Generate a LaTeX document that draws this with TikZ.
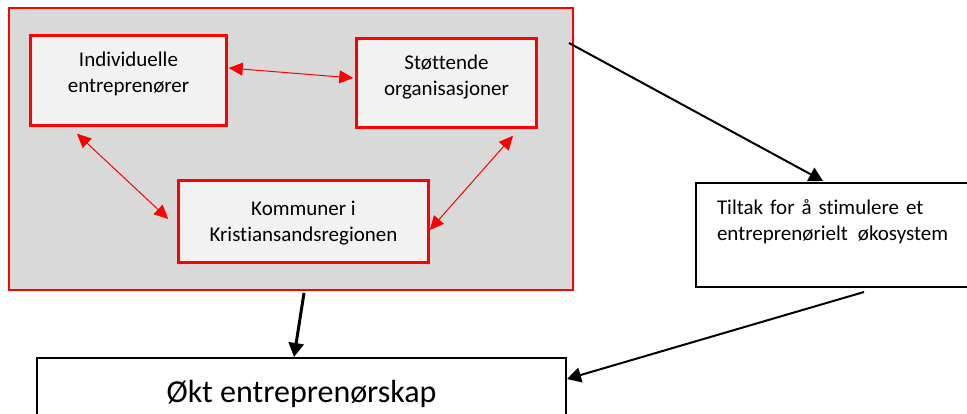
\documentclass[tikz,border=0pt]{standalone}
\usepackage{fontspec}
\setmainfont{Carlito}[Ligatures=CommonOff]
\usetikzlibrary{arrows.meta}
\definecolor{ecogray}{HTML}{D9D9D9}
\definecolor{boxgray}{HTML}{F2F2F2}

\begin{document}
\begin{tikzpicture}[x=1pt, y=-1pt,
        redbox/.style={draw=red, line width=2.5pt, fill=boxgray, align=center, inner sep=0pt, font=\fontsize{21}{26}\selectfont},
        blackbox/.style={draw=black, line width=2pt, fill=white},
        redarrow/.style={draw=red, line width=1pt, {Triangle[length=14pt,width=13pt]}-{Triangle[length=14pt,width=13pt]}},
        blackarrow/.style={draw=black, line width=2pt, -{Triangle[length=14pt,width=15pt]}}]
                \useasboundingbox (0, 0) rectangle (967, 414);

                \node[draw=red, line width=2pt, fill=ecogray, minimum width=564pt, minimum height=282pt, inner sep=0pt] (eco) at (291, 149) {};

                \node[redbox, minimum width=196pt, minimum height=90pt, text height=40pt, text depth=15pt] (ind) at (128.5, 80.5) {Individuelle\\entreprenører};
                \node[redbox, minimum width=180pt, minimum height=89pt, text height=41pt, text depth=15pt] (stott) at (446.5, 83) {Støttende\\organisasjoner};
                \node[redbox, minimum width=250pt, minimum height=82pt, text height=46pt, text depth=5pt] (kom) at (303.5, 221.5) {Kommuner i\\Kristiansandsregionen};

                \node[blackbox, anchor=north west, text width=260pt, inner xsep=21pt, minimum height=104pt, align=left, text height=15pt, text depth=55pt, font=\fontsize{21}{26}\selectfont] (tiltak) at (695, 182) {Tiltak for å stimulere et\\entreprenørielt \hspace{3pt}økosystem};
                \node[blackbox, anchor=north, minimum width=529pt, minimum height=62pt, text height=30pt, text depth=4pt, font=\fontsize{32}{38}\selectfont] (okt) at (301.5, 357) {Økt entreprenørskap};

                \draw[redarrow] ([xshift=1pt, yshift=12.5pt]ind.east) -- ([xshift=-2pt, yshift=5pt]stott.west);
                \draw[redarrow] ([xshift=-51.5pt, yshift=-7pt]ind.south) -- ([xshift=-9pt, yshift=2.5pt]kom.west);
                \draw[redarrow] ([xshift=66.5pt, yshift=-7pt]stott.south) -- ([yshift=-8.5pt]kom.east);

                \draw[blackarrow] ([xshift=-5pt, yshift=-36pt]eco.north east) -- ([xshift=128pt, yshift=1pt]tiltak.north west);
                \draw[blackarrow, line width=3pt] ([xshift=13pt, yshift=-2pt]eco.south) -- ([xshift=-7.5pt]okt.north);
                \draw[blackarrow] ([xshift=169pt, yshift=-4pt]tiltak.south west) -- ([yshift=10pt]okt.east);

            \end{tikzpicture}
\end{document}
